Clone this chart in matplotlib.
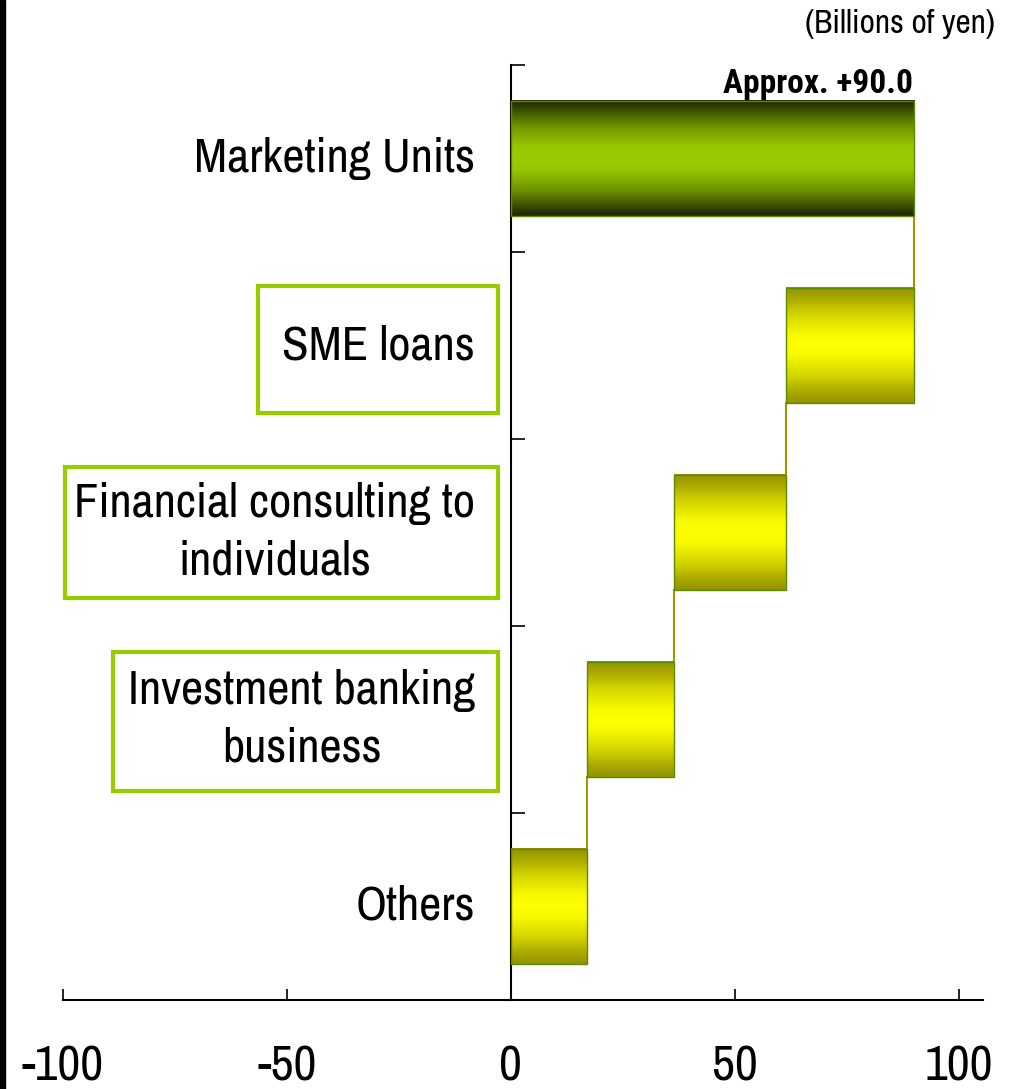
import numpy as np
import matplotlib.pyplot as plt
from matplotlib.colors import LinearSegmentedColormap
from matplotlib.patches import Rectangle

plt.rcParams['font.family'] = ['Archivo Narrow', 'Liberation Sans', 'DejaVu Sans']
plt.rcParams['axes.unicode_minus'] = False

# categories, top to bottom
categories = ['Marketing Units', 'SME loans', 'Financial consulting to\nindividuals',
              'Investment banking\nbusiness', 'Others']
# increments from the bottom step upward (Others, IB, consulting, SME)
steps = [17.0, 19.5, 25.0, 28.5]
total = 90.0
total_label = 'Approx. +90.0'
boxed = [False, True, True, True, False]
xticks = [-100, -50, 0, 50, 100]

# waterfall: lefts/widths for each row (top to bottom)
ends = np.cumsum(steps)
starts = ends - np.array(steps)
lefts = [0.0] + list(starts[::-1])
widths = [total] + list(np.array(steps)[::-1])

fig = plt.figure(figsize=(10.18, 10.89), dpi=100)
ax = fig.add_axes([63 / 1018, 89 / 1089, 920 / 1018, 935 / 1089])

ypos = np.arange(len(categories))
bars = ax.barh(ypos, widths, left=lefts, height=0.62, facecolor='none',
               edgecolor='#5f8a00', linewidth=1.0, zorder=4)

green = LinearSegmentedColormap.from_list('g', [(0, '#99cc00'), (0.2, '#96c800'),
                                                (0.55, '#6e9400'), (0.8, '#3f5500'),
                                                (1, '#1c2400')])
yellow = LinearSegmentedColormap.from_list('y', [(0, '#ffff00'), (0.2, '#f8f800'),
                                                 (0.55, '#d2d200'), (0.8, '#aaaa00'),
                                                 (1, '#939300')])
grad = np.abs(np.linspace(-1, 1, 256))[:, None]
for i, b in enumerate(bars):
    x0, y0, w, h = b.get_x(), b.get_y(), b.get_width(), b.get_height()
    ax.imshow(grad, cmap=green if i == 0 else yellow, vmin=0, vmax=1,
              extent=[x0, x0 + w, y0 + h, y0], aspect='auto', zorder=3,
              interpolation='bilinear')

# connectors between consecutive steps
for i in range(len(bars) - 1):
    upper, lower = bars[i], bars[i + 1]
    x = lower.get_x() + lower.get_width()
    ax.plot([x, x], [upper.get_y() + upper.get_height(), lower.get_y()],
            color='#999900', lw=1.5, zorder=2)

ax.text(lefts[0] + widths[0] - 0.3, -0.35, total_label, ha='right', va='baseline',
        fontsize=24, fontweight='bold', family=['Roboto Condensed', 'DejaVu Sans'],
        zorder=6)

# category labels, some inside green frames
frames = {1: (-56.5, 0.68, 1.36), 2: (-99.6, 1.65, 2.35), 3: (-88.8, 2.64, 3.38)}
for i, name in enumerate(categories):
    ax.text(-8.0, i, name, ha='right', va='center', multialignment='center',
            fontsize=35, linespacing=1.42)
    if boxed[i]:
        x0, y0, y1 = frames[i]
        ax.add_patch(Rectangle((x0, y0), -2.9 - x0, y1 - y0, fill=False,
                               edgecolor='#99cc00', linewidth=3.0, clip_on=False))

ax.set_xlim(-100, 105.4)
ax.set_ylim(4.5, -0.5)
ax.spines['top'].set_visible(False)
ax.spines['right'].set_visible(False)
ax.spines['left'].set_position(('data', 0))
ax.spines['left'].set_linewidth(1.5)
ax.spines['bottom'].set_linewidth(1.5)
ax.set_xticks(xticks)
ax.set_yticks(np.arange(-0.5, 4.6, 1.0))
ax.set_yticklabels([])
ax.tick_params(axis='x', direction='in', length=8, width=1.2, labelsize=36, pad=32)
ax.tick_params(axis='y', direction='in', length=10, width=1.2)

fig.text(995 / 1018, 1 - 9 / 1089, '(Billions of yen)', ha='right', va='top', fontsize=24)
fig.patches.append(Rectangle((0, 0), 5 / 1018, 1, transform=fig.transFigure,
                             color='black', zorder=10))

fig.savefig('out.png', dpi=100)
